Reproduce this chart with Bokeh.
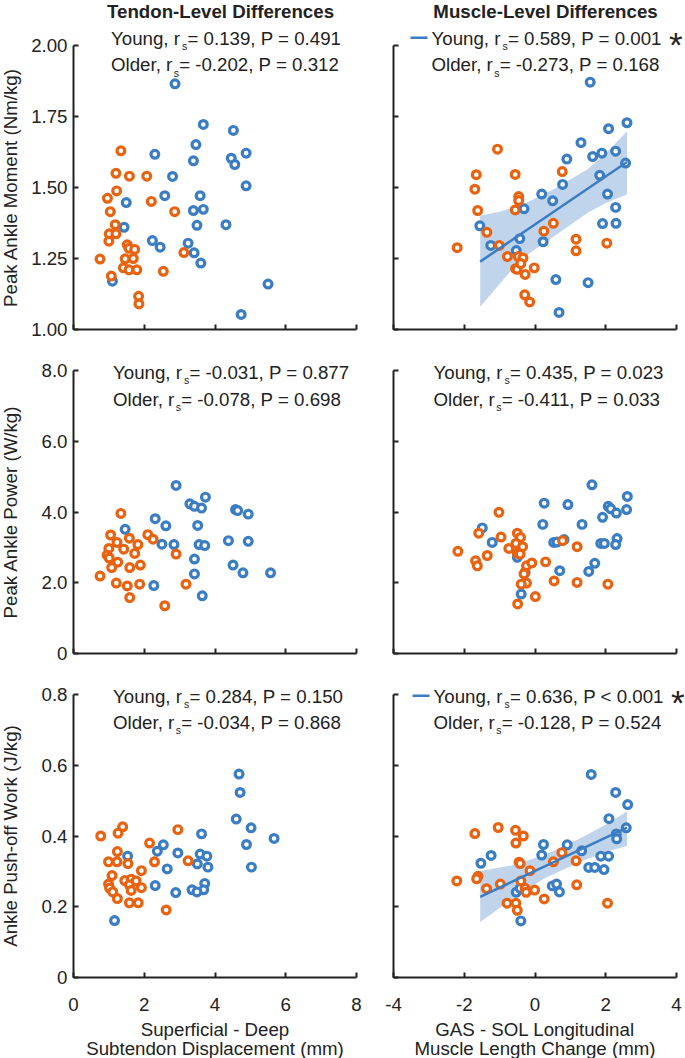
import math
from bokeh.plotting import figure
from bokeh.layouts import gridplot
from bokeh.models import Label, FixedTicker, Range1d, Arrow
from bokeh.embed import file_html
from bokeh.resources import INLINE

BLUE = "#3B7DC3"
ORANGE = "#E9620F"
INK = "#222222"
FONT = "Liberation Sans"
FS = 18.7
MID = 0.3465   # distance of the em-box middle above the baseline, in em

# ---------------- data ----------------
# Row 1: Peak ankle moment (Nm/kg)
tendon_moment_young_x = [2.87, 3.67, 4.52, 3.46, 2.30, 4.88, 4.46, 3.39, 4.56, 2.80, 4.88, 2.58, 3.58, 1.49,
                         3.39, 3.67, 1.43, 3.49, 4.31, 2.23, 3.24, 2.45, 3.41, 3.60, 1.10, 5.50, 4.74]
tendon_moment_young_y = [1.865, 1.722, 1.701, 1.651, 1.617, 1.621, 1.603, 1.594, 1.581, 1.539, 1.506, 1.471, 1.471, 1.447,
                         1.419, 1.423, 1.360, 1.367, 1.369, 1.313, 1.304, 1.290, 1.270, 1.234, 1.170, 1.160, 1.053]
tendon_moment_older_x = [1.34, 1.20, 1.58, 2.07, 1.22, 0.96, 2.20, 1.04, 2.86, 1.18, 1.01, 1.20, 1.00, 1.52,
                         1.57, 1.73, 0.75, 1.46, 1.69, 1.41, 1.57, 1.79, 2.54, 3.12, 1.07, 1.84, 1.85]
tendon_moment_older_y = [1.629, 1.550, 1.540, 1.540, 1.488, 1.462, 1.451, 1.415, 1.415, 1.369, 1.337, 1.337, 1.311, 1.298,
                         1.286, 1.282, 1.248, 1.249, 1.250, 1.217, 1.210, 1.210, 1.205, 1.271, 1.188, 1.117, 1.090]

muscle_moment_young_x = [1.56, 2.60, 2.08, 1.30, 0.90, 1.63, 1.89, 2.28, 2.56, 1.83, 0.78, 0.19, 2.05,
                         0.50, -0.31, 2.28, -1.56, 1.91, 2.29, -0.43, -1.25, 0.23, -0.53, 0.59, 1.50, 0.68]
muscle_moment_young_y = [1.871, 1.728, 1.707, 1.658, 1.600, 1.609, 1.621, 1.628, 1.586, 1.543, 1.511, 1.477, 1.477,
                         1.453, 1.425, 1.430, 1.365, 1.373, 1.374, 1.320, 1.296, 1.309, 1.278, 1.176, 1.165, 1.060]
muscle_moment_older_x = [-1.06, -1.66, -0.56, -1.70, 0.77, -0.46, -0.46, -1.62, -0.56, 0.52, -1.36, 0.25, 1.16, 1.16,
                         2.03, -2.20, -1.01, -0.78, -0.47, -0.34, -0.55, -0.51, -0.28, -0.02, -0.29, -0.15, -0.40]
muscle_moment_older_y = [1.635, 1.545, 1.546, 1.494, 1.556, 1.468, 1.454, 1.419, 1.421, 1.374, 1.342, 1.346, 1.318, 1.277,
                         1.304, 1.288, 1.296, 1.257, 1.257, 1.252, 1.214, 1.212, 1.194, 1.217, 1.122, 1.097, 1.232]
muscle_moment_fit_x = [-1.55, 2.60]
muscle_moment_fit_y = [1.239, 1.590]
muscle_moment_band_x = [-1.55, -1.0, -0.4, 0.5, 1.5, 2.0, 2.6]
muscle_moment_band_lo = [1.080, 1.160, 1.247, 1.325, 1.412, 1.445, 1.475]
muscle_moment_band_hi = [1.401, 1.415, 1.437, 1.492, 1.565, 1.620, 1.698]

# Row 2: Peak ankle power (W/kg)
tendon_power_young_x = [2.90, 3.73, 3.29, 3.42, 3.62, 4.58, 4.64, 4.94, 2.31, 2.61, 3.51, 1.46, 2.50,
                        2.84, 3.55, 3.71, 4.38, 4.94, 3.42, 3.42, 4.51, 4.79, 5.57, 2.27, 3.64]
tendon_power_young_y = [4.75, 4.42, 4.23, 4.16, 4.11, 4.07, 4.04, 3.94, 3.81, 3.61, 3.62, 3.51, 3.09,
                        3.08, 3.08, 3.05, 3.19, 3.17, 2.67, 2.25, 2.50, 2.28, 2.28, 1.92, 1.63]
tendon_power_older_x = [1.34, 1.05, 1.58, 2.10, 2.25, 1.23, 1.82, 1.00, 1.42, 1.73, 0.95, 1.01, 2.90, 1.25,
                        1.08, 1.59, 1.89, 0.75, 1.21, 1.52, 1.87, 3.18, 1.59, 2.58]
tendon_power_older_y = [3.96, 3.35, 3.26, 3.36, 3.23, 3.14, 3.08, 2.97, 2.95, 2.83, 2.78, 2.70, 2.81, 2.58,
                        2.43, 2.43, 2.50, 2.19, 1.99, 1.91, 1.96, 1.96, 1.58, 1.35]

muscle_power_young_x = [1.61, 2.61, 0.26, 0.93, 2.07, 2.14, 2.59, 2.30, 1.91, 0.22, 1.33, -1.49, 0.53,
                        0.62, 0.82, 2.32, 1.86, 1.96, 2.28, -1.21, -0.50, 1.69, 1.52, 0.70, -0.28, -0.39]
muscle_power_young_y = [4.77, 4.44, 4.25, 4.21, 4.16, 4.09, 4.07, 3.97, 3.85, 3.65, 3.65, 3.55, 3.14,
                        3.15, 3.22, 3.25, 3.11, 3.11, 3.08, 3.14, 2.72, 2.55, 2.32, 2.34, 2.29, 1.68]
muscle_power_older_x = [-1.02, -1.59, -0.96, -0.50, -0.41, -0.54, -0.35, -0.74, -0.50, -0.42, 0.78, 1.19, -2.18, -1.35,
                        -1.68, -1.63, -0.24, -0.09, 0.30, -0.31, -0.24, -0.39, 0.54, 1.19, 2.06, 0.01, -0.49]
muscle_power_older_y = [3.99, 3.40, 3.29, 3.40, 3.28, 3.11, 3.02, 2.97, 2.83, 2.81, 3.19, 3.02, 2.89, 2.77,
                        2.62, 2.48, 2.48, 2.56, 2.59, 2.25, 1.99, 1.96, 2.05, 2.01, 1.96, 1.61, 1.40]

# Row 3: Ankle push-off work (J/kg)
tendon_work_young_x = [4.68, 4.71, 4.60, 5.02, 5.67, 4.89, 5.03, 3.62, 2.54, 2.37, 2.95, 1.53, 3.58, 3.77,
                       3.50, 3.80, 2.65, 3.71, 2.31, 3.68, 3.35, 3.49, 2.89, 1.16]
tendon_work_young_y = [0.575, 0.523, 0.448, 0.423, 0.393, 0.376, 0.312, 0.406, 0.375, 0.357, 0.352, 0.343, 0.349, 0.343,
                       0.321, 0.312, 0.307, 0.266, 0.260, 0.248, 0.248, 0.242, 0.240, 0.161]
tendon_work_older_x = [0.77, 1.39, 1.26, 2.95, 2.15, 1.24, 0.99, 1.23, 1.54, 2.29, 3.24, 1.92, 1.09, 0.99,
                       1.02, 1.45, 1.63, 1.77, 1.58, 1.92, 1.11, 1.63, 1.24, 1.58, 1.83, 2.62]
tendon_work_older_y = [0.400, 0.426, 0.408, 0.418, 0.380, 0.356, 0.327, 0.327, 0.322, 0.327, 0.330, 0.302, 0.288, 0.264,
                       0.253, 0.274, 0.278, 0.273, 0.262, 0.254, 0.242, 0.246, 0.223, 0.211, 0.211, 0.191]

muscle_work_young_x = [1.59, 2.28, 2.62, 2.09, 2.58, 2.30, 2.31, 0.24, 0.91, 0.19, -1.24, 1.32, 1.86, 2.08,
                       -1.53, 1.52, 1.69, 1.95, 0.49, 0.61, 0.69, -0.53, -0.42, -0.40]
muscle_work_young_y = [0.574, 0.523, 0.489, 0.449, 0.423, 0.406, 0.392, 0.376, 0.375, 0.346, 0.345, 0.358, 0.343, 0.343,
                       0.323, 0.311, 0.311, 0.305, 0.259, 0.264, 0.242, 0.241, 0.252, 0.160]
muscle_work_older_x = [-1.04, -1.70, -0.55, -0.33, -0.54, 0.76, 0.52, 1.16, -0.45, -0.42, -0.14, -1.61, -1.65,
                       -2.21, -0.98, -1.37, -0.40, -0.28, -0.25, -0.01, 0.26, 1.18, -0.79, -0.54, -0.50, 2.05]
muscle_work_older_y = [0.424, 0.407, 0.416, 0.400, 0.380, 0.353, 0.327, 0.330, 0.326, 0.322, 0.302, 0.286, 0.279,
                       0.273, 0.264, 0.251, 0.273, 0.252, 0.241, 0.247, 0.222, 0.262, 0.210, 0.210, 0.190, 0.210]
muscle_work_fit_x = [-1.55, 2.60]
muscle_work_fit_y = [0.228, 0.424]
muscle_work_band_x = [-1.55, -0.6, 0.3, 1.25, 2.0, 2.6]
muscle_work_band_lo = [0.156, 0.226, 0.282, 0.326, 0.355, 0.372]
muscle_work_band_hi = [0.301, 0.318, 0.348, 0.392, 0.432, 0.470]

# Statistics text: (group, r_s, operator, P, significant)
stats_tendon_moment = [("Young", "0.139", "=", "0.491", False), ("Older", "-0.202", "=", "0.312", False)]
stats_muscle_moment = [("Young", "0.589", "=", "0.001", True), ("Older", "-0.273", "=", "0.168", False)]
stats_tendon_power = [("Young", "-0.031", "=", "0.877", False), ("Older", "-0.078", "=", "0.698", False)]
stats_muscle_power = [("Young", "0.435", "=", "0.023", False), ("Older", "-0.411", "=", "0.033", False)]
stats_tendon_work = [("Young", "0.284", "=", "0.150", False), ("Older", "-0.034", "=", "0.868", False)]
stats_muscle_work = [("Young", "0.636", "<", "0.001", True), ("Older", "-0.128", "=", "0.524", False)]

# Axes: limits, ticks and tick labels
tendon_x_range = (0, 8)
tendon_x_ticks = [0, 2, 4, 6, 8]
tendon_x_labels = ["0", "2", "4", "6", "8"]
muscle_x_range = (-4, 4)
muscle_x_ticks = [-4, -2, 0, 2, 4]
muscle_x_labels = ["-4", "-2", "0", "2", "4"]
moment_range = (1.0, 2.0)
moment_ticks = [1.0, 1.25, 1.5, 1.75, 2.0]
moment_labels = ["1.00", "1.25", "1.50", "1.75", "2.00"]
power_range = (0, 8)
power_ticks = [0, 2, 4, 6, 8]
power_labels = ["0", "2.0", "4.0", "6.0", "8.0"]
work_range = (0, 0.8)
work_ticks = [0, 0.2, 0.4, 0.6, 0.8]
work_labels = ["0", "0.2", "0.4", "0.6", "0.8"]

column_titles = ["Tendon-Level Differences", "Muscle-Level Differences"]
row_ylabels = ["Peak Ankle Moment (Nm/kg)", "Peak Ankle Power (W/kg)", "Ankle Push-off Work (J/kg)"]
column_xlabels = [["Superficial - Deep", "Subtendon Displacement (mm)"],
                  ["GAS - SOL Longitudinal", "Muscle Length Change (mm)"]]

# ---------------- layout (pixels) ----------------
# each figure is all frame; the axes sit at fixed locations inside it
AXIS_W = 283
COL_W = [374, 311]
COL_PAD_L = [73, 19]          # px left of the axis start
COL_PAD_R = [18, 9]
ROW_H = [345, 324, 389]
ROW_PAD_T = [45, 25, 25]      # px above the axis top
ROW_PAD_B = [16, 16, 81]
AXIS_H = [284, 283, 283]
TEXT_X = [[37.5, 38.0], [39.5, 40.0], [39.5, 40.0]]
TEXT_BASE = [[-1.0, 25.7], [8.0, 35.0], [8.0, 34.0]]   # baseline, px below the axis top
TITLE_BASE = 17.5             # baseline, px from top of page
TITLE_DX = [5.5, 10.5]
YLABEL_X = 10.0               # label middle, px from left of page
XLABEL_MID = [52.0, 70.5]     # line middles, px below the x axis

ARIAL = {" ": 278, ",": 278, "-": 333, ".": 278, "=": 584, "<": 584, "*": 389,
         "P": 667, "Y": 667, "O": 778, "o": 556, "u": 556, "n": 556, "g": 556,
         "l": 222, "d": 556, "e": 556, "r": 333, "s": 500}
for _c in "0123456789":
    ARIAL[_c] = 556


def tw(s, size):
    return sum(ARIAL.get(c, 556) for c in s) * size / 1000.0


def label(p, x, y, text, dx=0, dy=0, size=FS, color=INK, align="left", style="normal", angle=0.0):
    # dy: position of the text's middle line (px, up positive)
    p.add_layout(Label(x=x, y=y, x_offset=dx, y_offset=dy, text=text, text_font=FONT,
                       text_font_size=f"{size}px", text_color=color, text_align=align,
                       text_baseline="middle", text_font_style=style, angle=angle))


def label_base(p, x, y, text, dx, base_below, size=FS, **kw):
    # place text by its baseline, base_below px below (x, y)
    label(p, x, y, text, dx=dx, dy=-(base_below - MID * size), size=size, **kw)


def panel(row, col, xr, yr, xt, xl, yt, yl, young, older, stats, fit=None):
    sx = (xr[1] - xr[0]) / AXIS_W
    sy = (yr[1] - yr[0]) / AXIS_H[row]
    p = figure(width=COL_W[col], height=ROW_H[row],
               x_range=Range1d(xr[0] - COL_PAD_L[col] * sx, xr[1] + COL_PAD_R[col] * sx),
               y_range=Range1d(yr[0] - ROW_PAD_B[row] * sy, yr[1] + ROW_PAD_T[row] * sy),
               output_backend="svg", toolbar_location=None, tools="", title=None,
               min_border=0, min_border_left=0, min_border_right=0,
               min_border_top=0, min_border_bottom=0)
    p.grid.visible = False
    p.outline_line_color = None
    p.background_fill_color = "white"
    p.border_fill_color = "white"

    for ax in (p.xaxis[0], p.yaxis[0]):
        ax.axis_line_color = INK
        ax.axis_line_width = 2
        ax.major_tick_line_color = INK
        ax.major_tick_line_width = 2
        ax.major_tick_in = 5
        ax.major_tick_out = 0
        ax.minor_tick_line_color = None
        ax.major_label_text_font = FONT
        ax.major_label_text_color = INK
    p.xaxis.fixed_location = yr[0]
    p.yaxis.fixed_location = xr[0]
    p.xaxis.bounds = xr
    p.yaxis.bounds = yr
    p.xaxis.ticker = FixedTicker(ticks=xt)
    p.yaxis.ticker = FixedTicker(ticks=yt)
    if row == 2:
        p.xaxis.major_label_overrides = {t: s for t, s in zip(xt, xl)}
        p.xaxis.major_label_text_font_size = f"{FS}px"
        p.xaxis.major_label_standoff = 20
    else:
        p.xaxis.major_label_overrides = {t: "" for t in xt}
        p.xaxis.major_label_text_font_size = "0px"
        p.xaxis.major_label_standoff = 0
    if col == 0:
        p.yaxis.major_label_overrides = {t: s for t, s in zip(yt, yl)}
        p.yaxis.major_label_text_font_size = f"{FS}px"
        p.yaxis.major_label_standoff = 6
    else:
        p.yaxis.major_label_overrides = {t: "" for t in yt}
        p.yaxis.major_label_text_font_size = "0px"
        p.yaxis.major_label_standoff = 0

    # regression band and line
    if fit is not None:
        fx, fy, bx, blo, bhi = fit
        p.varea(x=bx, y1=blo, y2=bhi, fill_color=BLUE, fill_alpha=0.32)

    p.scatter(young[0], young[1], marker="circle", size=7.8, line_width=3.2,
              line_color=BLUE, fill_color="white")
    p.scatter(older[0], older[1], marker="circle", size=7.8, line_width=3.2,
              line_color=ORANGE, fill_color="white")
    if fit is not None:
        p.line(fx, fy, line_color=BLUE, line_width=2.5)

    # statistics text
    x0, y1 = xr[0], yr[1]
    tx = TEXT_X[row][col]
    for i, (grp, rs, op, pv, sig) in enumerate(stats):
        base = TEXT_BASE[row][i]
        first = f"{grp}, r"
        rest = f" = {rs}, P {op} {pv}"
        w1 = tw(first, FS)
        label_base(p, x0, y1, first, tx, base)
        label_base(p, x0, y1, "s", tx + w1 + 0.4, base + 5.0, size=10.5)
        xr_ = tx + w1 + 5.8
        label_base(p, x0, y1, rest, xr_, base)
        if sig:
            label_base(p, x0, y1, "*", xr_ + tw(rest, FS) + 2.0, base + 12.2, size=35)
        if fit is not None and i == 0:
            ly = base - 6.7
            p.add_layout(Arrow(end=None, x_start=x0 + (tx - 21) * sx, x_end=x0 + (tx - 4) * sx,
                               y_start=y1 - ly * sy, y_end=y1 - ly * sy,
                               line_color=BLUE, line_width=2.5))

    # column title
    if row == 0:
        label_base(p, (xr[0] + xr[1]) / 2, y1, column_titles[col], TITLE_DX[col],
                   TITLE_BASE - ROW_PAD_T[0], align="center", style="bold")
    # y axis label
    if col == 0:
        label(p, x0, (yr[0] + yr[1]) / 2, row_ylabels[row], dx=YLABEL_X - COL_PAD_L[0],
              align="center", angle=math.pi / 2)
    # x axis label (two lines)
    if row == 2:
        xm = (xr[0] + xr[1]) / 2
        for k in range(2):
            label(p, xm, yr[0], column_xlabels[col][k], dy=-XLABEL_MID[k], align="center")
    return p


p1 = panel(0, 0, tendon_x_range, moment_range, tendon_x_ticks, tendon_x_labels, moment_ticks, moment_labels,
           (tendon_moment_young_x, tendon_moment_young_y), (tendon_moment_older_x, tendon_moment_older_y),
           stats_tendon_moment)
p2 = panel(0, 1, muscle_x_range, moment_range, muscle_x_ticks, muscle_x_labels, moment_ticks, moment_labels,
           (muscle_moment_young_x, muscle_moment_young_y), (muscle_moment_older_x, muscle_moment_older_y),
           stats_muscle_moment,
           fit=(muscle_moment_fit_x, muscle_moment_fit_y, muscle_moment_band_x,
                muscle_moment_band_lo, muscle_moment_band_hi))
p3 = panel(1, 0, tendon_x_range, power_range, tendon_x_ticks, tendon_x_labels, power_ticks, power_labels,
           (tendon_power_young_x, tendon_power_young_y), (tendon_power_older_x, tendon_power_older_y),
           stats_tendon_power)
p4 = panel(1, 1, muscle_x_range, power_range, muscle_x_ticks, muscle_x_labels, power_ticks, power_labels,
           (muscle_power_young_x, muscle_power_young_y), (muscle_power_older_x, muscle_power_older_y),
           stats_muscle_power)
p5 = panel(2, 0, tendon_x_range, work_range, tendon_x_ticks, tendon_x_labels, work_ticks, work_labels,
           (tendon_work_young_x, tendon_work_young_y), (tendon_work_older_x, tendon_work_older_y),
           stats_tendon_work)
p6 = panel(2, 1, muscle_x_range, work_range, muscle_x_ticks, muscle_x_labels, work_ticks, work_labels,
           (muscle_work_young_x, muscle_work_young_y), (muscle_work_older_x, muscle_work_older_y),
           stats_muscle_work,
           fit=(muscle_work_fit_x, muscle_work_fit_y, muscle_work_band_x,
                muscle_work_band_lo, muscle_work_band_hi))

grid = gridplot([[p1, p2], [p3, p4], [p5, p6]], toolbar_location=None)

with open("out.html", "w") as f:
    f.write(file_html(grid, INLINE))
